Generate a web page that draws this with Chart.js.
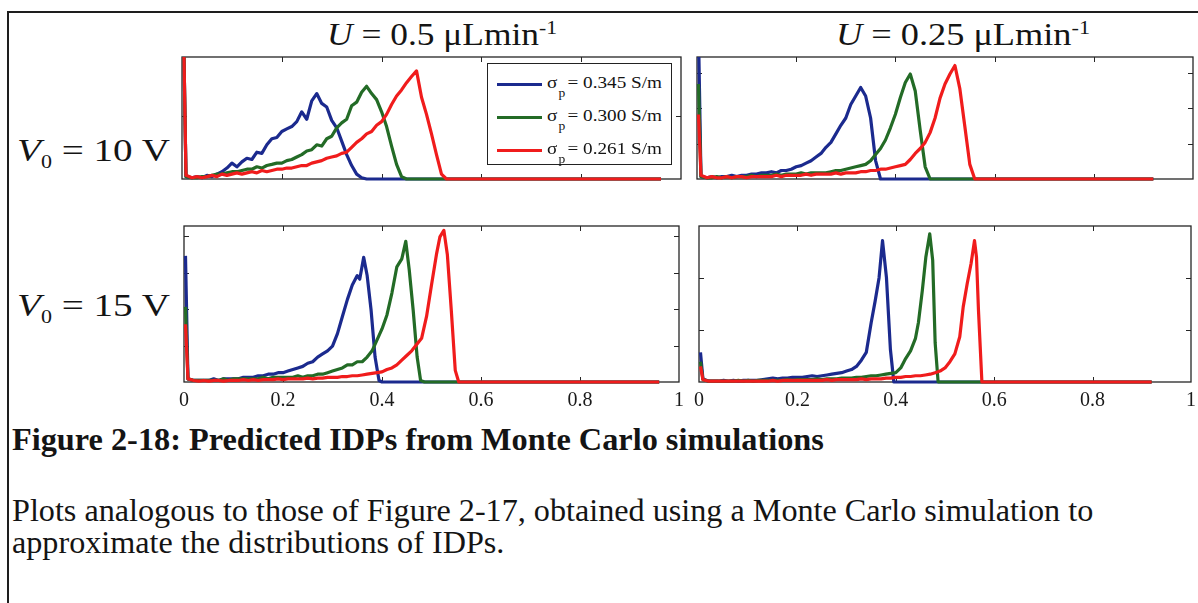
<!DOCTYPE html>
<html lang="en">
<head>
<meta charset="utf-8">
<title>Predicted IDPs from Monte Carlo simulations</title>
<script src="https://cdn.jsdelivr.net/npm/chart.js@4.4.1/dist/chart.umd.min.js"></script>
<style>
  html,body{margin:0;padding:0;background:#fff}
  body{position:relative;width:1198px;height:603px;overflow:hidden;
       font-family:"Liberation Serif","Times New Roman",Times,serif;color:#141414}
  .frame{position:absolute;left:7px;top:11px;width:1300px;height:700px;
         border-left:2px solid #1e1e1e;border-top:2px solid #1e1e1e}
  .txt{position:absolute;white-space:nowrap;line-height:1;transform-origin:0 50%}
  .txt sub,.txt sup{line-height:0}
  .panel{position:absolute}
  .legend{position:absolute;background:#fff;border:1.5px solid #222;box-sizing:border-box}
  .legend .swatch{position:absolute;height:3px}
  .legend .lbl{position:absolute;font-size:17px;line-height:1;white-space:nowrap;transform-origin:0 50%}
  .legend .lbl sub{font-size:12px;line-height:0;vertical-align:-9px;margin-left:1px;margin-right:2px}
</style>
</head>
<body>
<div class="frame"></div>

<div class="txt" id="titleL" style="left:327px;font-size:31px" data-base="45" data-w="230"></div>
<div class="txt" id="titleR" style="left:836px;font-size:31px" data-base="45" data-w="254"></div>
<div class="txt" id="rowA" style="left:17px;font-size:32px" data-base="161" data-w="153"></div>
<div class="txt" id="rowB" style="left:17px;font-size:32px" data-base="316" data-w="153"></div>

<div class="panel" id="wrap-tl"><canvas id="c-tl"></canvas></div>
<div class="panel" id="wrap-tr"><canvas id="c-tr"></canvas></div>
<div class="panel" id="wrap-bl"><canvas id="c-bl"></canvas></div>
<div class="panel" id="wrap-br"><canvas id="c-br"></canvas></div>

<div class="legend" id="legend" style="left:487px;top:63px;width:185px;height:102px"></div>

<div class="txt" id="caption" style="left:12px;font-size:26px;font-weight:bold" data-base="450" data-fw="812">Figure 2-18: Predicted IDPs from Monte Carlo simulations</div>
<div class="txt" id="para1" style="left:12px;font-size:26px" data-base="521" data-fw="1082">Plots analogous to those of Figure 2-17, obtained using a Monte Carlo simulation to</div>
<div class="txt" id="para2" style="left:12px;font-size:26px" data-base="553">approximate the distributions of IDPs.</div>

<script>
// ---- labels ----
const flowRates = ['0.5', '0.25'];          // U, µL/min (columns)
const voltages = ['10', '15'];              // V0, volts (rows)
const sigmaValues = ['0.345', '0.300', '0.261']; // particle conductivity, S/m
const xTickValues = [0, 0.2, 0.4, 0.6, 0.8, 1];
const xTickLabels = ['0', '0.2', '0.4', '0.6', '0.8', '1'];

// y extent and inner tick values of each panel (tl, tr, bl, br)
const yMaxByPanel = [9.7, 17.2, 21.4, 29.9];
const yTicksByPanel = [[5], [5, 10, 15], [5, 10, 15, 20], [10, 20]];

// ---- IDP densities, [x, density] ----
// U = 0.5, V0 = 10 V
const tlBlue = [[0.003,12.1],[0.008,0.19],[0.02,0.1],[0.03,0.19],[0.04,0.1],[0.05,0.29],[0.06,0.19],[0.07,0.39],[0.08,0.58],[0.09,0.87],[0.10,1.26],[0.11,0.97],[0.12,1.36],[0.13,1.65],[0.14,1.55],[0.15,2.13],[0.16,2.04],[0.17,2.72],[0.18,3.2],[0.19,3.3],[0.20,3.78],[0.21,3.98],[0.22,4.17],[0.23,4.56],[0.24,5.34],[0.25,4.75],[0.26,6.21],[0.27,6.79],[0.28,6.01],[0.29,5.72],[0.30,4.66],[0.31,4.07],[0.32,3.01],[0.33,1.94],[0.34,1.07],[0.35,0.39],[0.36,0.1],[0.37,0],[0.96,0]];
const tlGreen = [[0.003,12.1],[0.008,0.19],[0.02,0.1],[0.03,0.1],[0.04,0.19],[0.05,0.19],[0.06,0.29],[0.07,0.39],[0.08,0.39],[0.09,0.49],[0.10,0.58],[0.11,0.58],[0.12,0.68],[0.13,0.78],[0.14,0.78],[0.15,0.97],[0.16,0.87],[0.17,1.07],[0.18,1.16],[0.19,1.26],[0.20,1.26],[0.21,1.46],[0.22,1.55],[0.23,1.75],[0.24,1.94],[0.25,2.23],[0.26,2.33],[0.27,2.72],[0.28,2.62],[0.29,3.2],[0.30,3.4],[0.31,4.07],[0.32,4.46],[0.33,4.75],[0.34,5.82],[0.35,6.11],[0.36,6.89],[0.37,7.37],[0.38,6.79],[0.39,6.31],[0.40,5.34],[0.41,4.17],[0.42,2.62],[0.43,1.16],[0.44,0.19],[0.45,0],[0.96,0]];
const tlRed = [[0.003,12.1],[0.008,0.29],[0.02,0.1],[0.03,0.19],[0.04,0.1],[0.05,0.19],[0.06,0.29],[0.07,0.19],[0.08,0.39],[0.09,0.29],[0.10,0.39],[0.11,0.49],[0.12,0.39],[0.13,0.49],[0.14,0.58],[0.15,0.49],[0.16,0.68],[0.17,0.58],[0.18,0.68],[0.19,0.78],[0.20,0.78],[0.21,0.87],[0.22,0.87],[0.23,0.97],[0.24,1.07],[0.25,1.07],[0.26,1.26],[0.27,1.36],[0.28,1.46],[0.29,1.65],[0.30,1.75],[0.31,1.84],[0.32,2.04],[0.33,2.13],[0.34,2.52],[0.35,2.91],[0.36,3.2],[0.37,3.59],[0.38,3.78],[0.39,4.27],[0.40,4.56],[0.41,5.14],[0.42,5.92],[0.43,6.6],[0.44,7.08],[0.45,7.66],[0.46,8.15],[0.47,8.6],[0.48,6.5],[0.49,5.14],[0.50,3.59],[0.51,1.94],[0.52,0.39],[0.53,0],[0.96,0]];

// U = 0.25, V0 = 10 V
const trBlue = [[0.003,20.6],[0.008,0.34],[0.02,0.17],[0.03,0.34],[0.04,0.17],[0.05,0.34],[0.06,0.34],[0.07,0.52],[0.08,0.34],[0.09,0.52],[0.10,0.52],[0.11,0.69],[0.12,0.69],[0.13,0.86],[0.14,0.86],[0.15,1.03],[0.16,0.86],[0.17,1.2],[0.18,1.2],[0.19,1.38],[0.20,1.72],[0.21,1.89],[0.22,2.24],[0.23,2.58],[0.24,3.1],[0.25,3.61],[0.26,4.47],[0.27,5.16],[0.28,6.36],[0.29,7.57],[0.30,8.6],[0.31,10.5],[0.32,11.7],[0.33,12.9],[0.34,11.7],[0.35,8.6],[0.36,2.6],[0.37,0],[0.92,0]];
const trGreen = [[0.003,13.4],[0.008,0.34],[0.02,0.17],[0.03,0.17],[0.04,0.34],[0.05,0.17],[0.06,0.34],[0.07,0.17],[0.08,0.34],[0.09,0.34],[0.10,0.34],[0.11,0.52],[0.12,0.34],[0.13,0.52],[0.14,0.52],[0.15,0.52],[0.16,0.69],[0.17,0.52],[0.18,0.69],[0.19,0.69],[0.20,0.69],[0.21,0.86],[0.22,0.69],[0.23,0.86],[0.24,0.86],[0.25,0.86],[0.26,0.86],[0.27,1.03],[0.28,1.2],[0.29,1.2],[0.30,1.38],[0.31,1.55],[0.32,1.72],[0.33,1.89],[0.34,2.06],[0.35,2.58],[0.36,3.44],[0.37,4.3],[0.38,5.5],[0.39,7.22],[0.40,9.12],[0.41,11.5],[0.42,13.6],[0.43,14.8],[0.44,12.4],[0.45,6.88],[0.46,1.72],[0.47,0],[0.92,0]];
const trRed = [[0.003,9.1],[0.008,0.52],[0.02,0.17],[0.03,0.34],[0.04,0.17],[0.05,0.17],[0.06,0.34],[0.07,0.17],[0.08,0.34],[0.09,0.34],[0.10,0.17],[0.11,0.34],[0.12,0.34],[0.13,0.34],[0.14,0.34],[0.15,0.34],[0.16,0.52],[0.17,0.34],[0.18,0.52],[0.19,0.52],[0.20,0.52],[0.21,0.52],[0.22,0.69],[0.23,0.52],[0.24,0.69],[0.25,0.69],[0.26,0.69],[0.27,0.69],[0.28,0.86],[0.29,0.69],[0.30,0.86],[0.31,0.86],[0.32,0.86],[0.33,1.03],[0.34,1.03],[0.35,1.2],[0.36,1.2],[0.37,1.38],[0.38,1.38],[0.39,1.55],[0.40,1.72],[0.41,1.89],[0.42,2.06],[0.43,2.75],[0.44,3.61],[0.45,4.3],[0.46,5.16],[0.47,6.54],[0.48,8.6],[0.49,11.4],[0.50,13.4],[0.51,14.8],[0.52,16.0],[0.53,12.7],[0.54,7.4],[0.55,2.06],[0.56,0],[0.92,0]];

// U = 0.5, V0 = 15 V
const blBlue = [[0.003,17.3],[0.008,0.43],[0.02,0.21],[0.03,0.21],[0.04,0.21],[0.05,0.21],[0.06,0.43],[0.07,0.21],[0.08,0.43],[0.09,0.43],[0.10,0.43],[0.11,0.43],[0.12,0.64],[0.13,0.64],[0.14,0.64],[0.15,0.86],[0.16,0.86],[0.17,1.07],[0.18,1.07],[0.19,1.28],[0.20,1.28],[0.21,1.5],[0.22,1.71],[0.23,1.93],[0.24,2.14],[0.25,2.57],[0.26,2.78],[0.27,3.42],[0.28,3.85],[0.29,4.28],[0.30,4.92],[0.31,6.63],[0.32,8.99],[0.33,11.3],[0.34,13.3],[0.35,14.6],[0.355,14.1],[0.363,17.1],[0.37,14.6],[0.378,9.84],[0.386,3.42],[0.394,0.21],[0.40,0],[0.96,0]];
const blGreen = [[0.003,10.3],[0.008,0.43],[0.02,0.21],[0.03,0.21],[0.04,0.21],[0.05,0.21],[0.06,0.21],[0.07,0.21],[0.08,0.43],[0.09,0.21],[0.10,0.43],[0.11,0.43],[0.12,0.43],[0.13,0.43],[0.14,0.43],[0.15,0.43],[0.16,0.64],[0.17,0.43],[0.18,0.64],[0.19,0.64],[0.20,0.64],[0.21,0.64],[0.22,0.64],[0.23,0.86],[0.24,0.64],[0.25,0.86],[0.26,0.86],[0.27,1.07],[0.28,1.07],[0.29,1.28],[0.30,1.5],[0.31,1.71],[0.32,1.93],[0.33,2.35],[0.34,2.35],[0.35,2.78],[0.36,2.78],[0.37,3.42],[0.38,4.28],[0.39,5.78],[0.40,7.28],[0.41,9.2],[0.42,12.2],[0.43,15.8],[0.44,16.9],[0.448,19.3],[0.455,15.4],[0.463,9.84],[0.471,3.42],[0.478,0.21],[0.486,0],[0.96,0]];
const blRed = [[0.003,7.92],[0.008,0.43],[0.02,0.21],[0.03,0.11],[0.04,0.21],[0.05,0.11],[0.06,0.21],[0.07,0.21],[0.08,0.11],[0.09,0.21],[0.10,0.21],[0.11,0.21],[0.12,0.32],[0.13,0.21],[0.14,0.32],[0.15,0.21],[0.16,0.32],[0.17,0.32],[0.18,0.32],[0.19,0.43],[0.20,0.32],[0.21,0.43],[0.22,0.43],[0.23,0.43],[0.24,0.43],[0.25,0.54],[0.26,0.43],[0.27,0.54],[0.28,0.54],[0.29,0.64],[0.30,0.64],[0.31,0.64],[0.32,0.75],[0.33,0.75],[0.34,0.86],[0.35,0.86],[0.36,0.96],[0.37,1.07],[0.38,1.18],[0.39,1.28],[0.40,1.39],[0.41,1.71],[0.42,1.93],[0.43,2.35],[0.44,3.0],[0.45,3.64],[0.46,4.28],[0.47,5.14],[0.48,5.99],[0.49,8.99],[0.50,13.3],[0.51,17.5],[0.517,19.9],[0.525,20.8],[0.532,17.5],[0.54,9.84],[0.548,1.6],[0.555,0],[0.96,0]];

// U = 0.25, V0 = 15 V
const brBlue = [[0.003,5.68],[0.008,0.6],[0.02,0.15],[0.03,0.15],[0.04,0.15],[0.05,0.3],[0.06,0.15],[0.07,0.3],[0.08,0.15],[0.09,0.3],[0.10,0.3],[0.11,0.3],[0.12,0.3],[0.13,0.45],[0.14,0.6],[0.15,0.75],[0.16,0.6],[0.17,0.75],[0.18,0.75],[0.19,0.9],[0.20,0.9],[0.21,0.9],[0.22,1.05],[0.23,1.2],[0.24,1.05],[0.25,1.2],[0.26,1.35],[0.27,1.5],[0.28,1.64],[0.29,1.79],[0.30,2.09],[0.31,2.39],[0.32,2.99],[0.33,4.19],[0.34,5.68],[0.35,11.4],[0.358,15.5],[0.366,20.0],[0.373,27.1],[0.381,20.0],[0.389,6.28],[0.396,0],[0.92,0]];
const brGreen = [[0.003,3.89],[0.008,0.45],[0.02,0.15],[0.03,0.15],[0.04,0.15],[0.05,0.15],[0.06,0.15],[0.07,0.15],[0.08,0.3],[0.09,0.15],[0.10,0.3],[0.11,0.15],[0.12,0.3],[0.13,0.3],[0.14,0.3],[0.15,0.3],[0.16,0.3],[0.17,0.3],[0.18,0.45],[0.19,0.3],[0.20,0.45],[0.21,0.45],[0.22,0.45],[0.23,0.45],[0.24,0.6],[0.25,0.45],[0.26,0.6],[0.27,0.6],[0.28,0.6],[0.29,0.75],[0.30,0.75],[0.31,0.75],[0.32,0.9],[0.33,0.9],[0.34,1.05],[0.35,1.2],[0.36,1.2],[0.37,1.35],[0.38,1.5],[0.39,1.64],[0.40,1.79],[0.41,2.69],[0.42,4.49],[0.43,5.98],[0.44,8.37],[0.446,11.4],[0.454,17.6],[0.461,23.9],[0.469,28.4],[0.475,23.3],[0.48,7.48],[0.486,0],[0.92,0]];
const brRed = [[0.003,2.99],[0.008,0.45],[0.02,0.15],[0.03,0.15],[0.04,0.15],[0.05,0.15],[0.06,0.15],[0.07,0.15],[0.08,0.15],[0.09,0.15],[0.10,0.15],[0.11,0.15],[0.12,0.15],[0.13,0.15],[0.14,0.15],[0.15,0.3],[0.16,0.15],[0.17,0.3],[0.18,0.3],[0.19,0.3],[0.20,0.3],[0.21,0.3],[0.22,0.3],[0.23,0.3],[0.24,0.3],[0.25,0.3],[0.26,0.45],[0.27,0.3],[0.28,0.45],[0.29,0.45],[0.30,0.45],[0.31,0.45],[0.32,0.45],[0.33,0.6],[0.34,0.45],[0.35,0.6],[0.36,0.6],[0.37,0.6],[0.38,0.75],[0.39,0.75],[0.40,0.9],[0.41,0.9],[0.42,1.05],[0.43,1.05],[0.44,1.2],[0.45,1.2],[0.46,1.35],[0.47,1.5],[0.48,1.79],[0.49,2.09],[0.50,2.69],[0.51,3.89],[0.52,5.38],[0.53,8.67],[0.537,14.4],[0.545,18.8],[0.553,22.7],[0.56,27.1],[0.564,23.9],[0.568,13.8],[0.575,0],[0.92,0]];

// ---- styling / layout ----
const seriesColors = ['#1b2a8e', '#236b26', '#f01c1c'];
const panels = [
  {key: 'tl', series: [tlBlue, tlGreen, tlRed], left: 182, top: 57, right: 681, bottom: 211, showX: false},
  {key: 'tr', series: [trBlue, trGreen, trRed], left: 697, top: 57, right: 1193, bottom: 211, showX: false},
  {key: 'bl', series: [blBlue, blGreen, blRed], left: 182, top: 226, right: 681, bottom: 382, showX: true},
  {key: 'br', series: [brBlue, brGreen, brRed], left: 697, top: 226, right: 1193, bottom: 382, showX: true}
];
const PAD_X = 10, PAD_T = 6, PAD_B = 6, X_AXIS_H = 32;

// text headers
document.getElementById('titleL').innerHTML = '<i>U</i> = ' + flowRates[0] + ' \u03bcLmin<sup style="font-size:19px">-1</sup>';
document.getElementById('titleR').innerHTML = '<i>U</i> = ' + flowRates[1] + ' \u03bcLmin<sup style="font-size:19px">-1</sup>';
document.getElementById('rowA').innerHTML = '<i>V</i><sub style="font-size:18px">0</sub>&nbsp;= ' + voltages[0] + ' V';
document.getElementById('rowB').innerHTML = '<i>V</i><sub style="font-size:18px">0</sub>&nbsp;= ' + voltages[1] + ' V';

// legend
const legendEl = document.getElementById('legend');
const rowCenters = [20, 53, 86];
sigmaValues.forEach((s, i) => {
  const sw = document.createElement('div');
  sw.className = 'swatch';
  sw.style.cssText = 'left:9px;width:45px;top:' + (rowCenters[i] - 1.5) + 'px;background:' + seriesColors[i];
  legendEl.appendChild(sw);
  const lb = document.createElement('div');
  lb.className = 'lbl';
  lb.style.left = '59px';
  lb.style.top = (rowCenters[i] - 10) + 'px';
  lb.dataset.w = '115';
  lb.innerHTML = '\u03c3<sub>p</sub>= ' + s + ' S/m';
  legendEl.appendChild(lb);
});

// frame and inward tick marks on all four sides
const frameTicks = {
  id: 'frameTicks',
  beforeDatasetsDraw(chart, args, opts) {
    const {ctx, chartArea: a} = chart;
    const xs = chart.scales.x, ys = chart.scales.y;
    ctx.save();
    ctx.strokeStyle = '#262626';
    ctx.lineWidth = 1.3;
    ctx.strokeRect(a.left, a.top, a.right - a.left, a.bottom - a.top);
    ctx.lineWidth = 1;
    ctx.beginPath();
    const L = 5;
    opts.xTicks.forEach(v => {
      const px = Math.round(xs.getPixelForValue(v)) + 0.5;
      ctx.moveTo(px, a.bottom); ctx.lineTo(px, a.bottom - L);
      ctx.moveTo(px, a.top); ctx.lineTo(px, a.top + L);
    });
    opts.yTicks.forEach(v => {
      const py = Math.round(ys.getPixelForValue(v)) + 0.5;
      ctx.moveTo(a.left, py); ctx.lineTo(a.left + L, py);
      ctx.moveTo(a.right, py); ctx.lineTo(a.right - L, py);
    });
    ctx.stroke();
    ctx.restore();
  }
};

Chart.defaults.font.family = '"Liberation Serif", "Times New Roman", serif';
Chart.defaults.color = '#1a1a1a';

panels.forEach((p, idx) => {
  const w = (p.right - p.left) + 2 * PAD_X;
  const h = (p.bottom - p.top) + PAD_T + (p.showX ? X_AXIS_H : PAD_B);
  const wrap = document.getElementById('wrap-' + p.key);
  wrap.style.left = (p.left - PAD_X) + 'px';
  wrap.style.top = (p.top - PAD_T) + 'px';
  const cv = document.getElementById('c-' + p.key);
  cv.width = w; cv.height = h;
  cv.style.width = w + 'px'; cv.style.height = h + 'px';

  new Chart(cv, {
    type: 'line',
    data: {
      datasets: p.series.map((pts, i) => ({
        label: '\u03c3p = ' + sigmaValues[i] + ' S/m',
        data: pts,
        borderColor: seriesColors[i],
        backgroundColor: seriesColors[i],
        borderWidth: 3.2,
        pointRadius: 0,
        tension: 0,
        fill: false,
        borderJoinStyle: 'round',
        order: 2 - i,
        clip: {left: 3, right: 3, top: 0, bottom: 2}
      }))
    },
    options: {
      responsive: false,
      animation: false,
      devicePixelRatio: 1,
      events: [],
      layout: {padding: {left: PAD_X, right: PAD_X, top: PAD_T, bottom: p.showX ? 0 : PAD_B}},
      plugins: {
        legend: {display: false},
        tooltip: {enabled: false},
        frameTicks: {xTicks: xTickValues.slice(1, -1), yTicks: yTicksByPanel[idx]}
      },
      scales: {
        x: {
          type: 'linear', min: 0, max: 1,
          display: p.showX,
          grid: {display: false, drawTicks: false},
          border: {display: false},
          afterBuildTicks: s => { s.ticks = xTickValues.map(v => ({value: v})); },
          afterFit: s => { s.height = X_AXIS_H; },
          ticks: {
            autoSkip: false, maxRotation: 0, padding: 7,
            font: {size: 20},
            color: '#1a1a1a',
            callback: (v, i) => xTickLabels[i]
          }
        },
        y: {
          type: 'linear', min: 0, max: yMaxByPanel[idx],
          display: false
        }
      }
    },
    plugins: [frameTicks]
  });
});

// size text runs to their measured extents and set their baselines
function placeText() {
  // caption and paragraph: scale the font size to the run length
  document.querySelectorAll('[data-fw]').forEach(el => {
    el.style.fontSize = '100px';
    const w100 = el.getBoundingClientRect().width;
    el.style.fontSize = (100 * parseFloat(el.dataset.fw) / w100).toFixed(2) + 'px';
  });
  document.getElementById('para2').style.fontSize = document.getElementById('para1').style.fontSize;
  // figure labels: horizontal stretch only
  document.querySelectorAll('[data-w]').forEach(el => {
    el.style.transform = 'none';
    const wNow = el.getBoundingClientRect().width;
    const target = parseFloat(el.dataset.w);
    if (wNow > 0) el.style.transform = 'scaleX(' + (target / wNow).toFixed(4) + ')';
  });
  document.querySelectorAll('[data-base]').forEach(el => {
    const fs = parseFloat(getComputedStyle(el).fontSize);
    el.style.top = (parseFloat(el.dataset.base) - 0.8375 * fs).toFixed(1) + 'px';
  });
}
placeText();
if (document.fonts && document.fonts.ready) document.fonts.ready.then(placeText);
</script>
</body>
</html>
